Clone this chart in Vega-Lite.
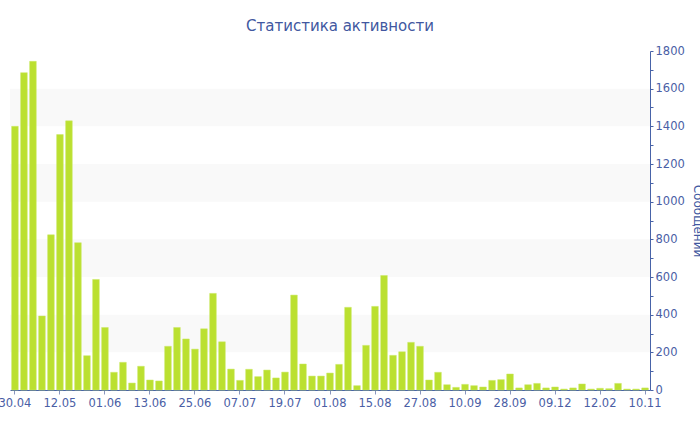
{
  "$schema": "https://vega.github.io/schema/vega-lite/v6.json",
  "autosize": {"type": "none"},
  "padding": {"left": 10, "top": 51, "right": 50, "bottom": 40},
  "width": 640,
  "height": 339,
  "background": "white",
  "title": {
    "text": "Статистика активности",
    "font": "DejaVu Sans",
    "fontSize": 15,
    "fontWeight": "normal",
    "color": "#4157a0",
    "anchor": "middle",
    "dx": 10,
    "offset": 11
  },
  "config": {
    "view": {"stroke": null},
    "axis": {
      "labelFont": "DejaVu Sans",
      "labelFontSize": 11.5,
      "labelColor": "#4a5ea5",
      "titleFont": "DejaVu Sans",
      "titleFontSize": 12,
      "titleFontWeight": "normal",
      "titleColor": "#4157a0",
      "domainColor": "#4863a8",
      "tickColor": "#8a96c0",
      "grid": false
    },
    "axisY": {
      "labelOverlap": false,
      "labelFlush": false,
      "labelBound": false
    }
  },
  "datasets": {
    "bands": [
      {"lo": 200, "hi": 400},
      {"lo": 600, "hi": 800},
      {"lo": 1000, "hi": 1200},
      {"lo": 1400, "hi": 1600}
    ],
    "activity": [
      {"i": 1, "n": 1400}, {"i": 2, "n": 1685}, {"i": 3, "n": 1745}, {"i": 4, "n": 393}, {"i": 5, "n": 824},
      {"i": 6, "n": 1356}, {"i": 7, "n": 1429}, {"i": 8, "n": 782}, {"i": 9, "n": 182}, {"i": 10, "n": 587},
      {"i": 11, "n": 332}, {"i": 12, "n": 94}, {"i": 13, "n": 147}, {"i": 14, "n": 37}, {"i": 15, "n": 126},
      {"i": 16, "n": 53}, {"i": 17, "n": 48}, {"i": 18, "n": 232}, {"i": 19, "n": 332}, {"i": 20, "n": 271},
      {"i": 21, "n": 217}, {"i": 22, "n": 325}, {"i": 23, "n": 513}, {"i": 24, "n": 256}, {"i": 25, "n": 111},
      {"i": 26, "n": 51}, {"i": 27, "n": 110}, {"i": 28, "n": 71}, {"i": 29, "n": 106}, {"i": 30, "n": 64},
      {"i": 31, "n": 95}, {"i": 32, "n": 504}, {"i": 33, "n": 138}, {"i": 34, "n": 74}, {"i": 35, "n": 74},
      {"i": 36, "n": 90}, {"i": 37, "n": 136}, {"i": 38, "n": 439}, {"i": 39, "n": 23}, {"i": 40, "n": 237},
      {"i": 41, "n": 444}, {"i": 42, "n": 608}, {"i": 43, "n": 184}, {"i": 44, "n": 203}, {"i": 45, "n": 253},
      {"i": 46, "n": 232}, {"i": 47, "n": 53}, {"i": 48, "n": 94}, {"i": 49, "n": 28}, {"i": 50, "n": 14},
      {"i": 51, "n": 30}, {"i": 52, "n": 23}, {"i": 53, "n": 16}, {"i": 54, "n": 51}, {"i": 55, "n": 55},
      {"i": 56, "n": 85}, {"i": 57, "n": 11}, {"i": 58, "n": 28}, {"i": 59, "n": 35}, {"i": 60, "n": 11},
      {"i": 61, "n": 16}, {"i": 62, "n": 5}, {"i": 63, "n": 11}, {"i": 64, "n": 32}, {"i": 65, "n": 5},
      {"i": 66, "n": 9}, {"i": 67, "n": 7}, {"i": 68, "n": 35}, {"i": 69, "n": 5}, {"i": 70, "n": 5},
      {"i": 71, "n": 11}
    ]
  },
  "layer": [
    {
      "data": {"name": "bands"},
      "mark": {"type": "rect", "color": "#f9f9f9"},
      "encoding": {
        "y": {
          "field": "lo",
          "type": "quantitative",
          "scale": {"domain": [0, 1800], "nice": false},
          "axis": {
            "orient": "right",
            "title": "Сообщений",
            "values": [0, 100, 200, 300, 400, 500, 600, 700, 800, 900, 1000, 1100, 1200, 1300, 1400, 1500, 1600, 1700, 1800],
            "format": "d",
            "labelExpr": "datum.value % 200 == 0 ? datum.label : ''",
            "labelOverlap": false,
            "labelFlush": false,
            "labelBound": false,
            "tickColor": "#4863a8",
            "tickSize": 3,
            "labelPadding": 2,
            "titlePadding": 6,
            "titleAngle": 90
          }
        },
        "y2": {"field": "hi"}
      }
    },
    {
      "data": {"name": "activity"},
      "mark": {"type": "bar", "color": "#bbe030", "stroke": "#cbe866", "strokeWidth": 0.5},
      "encoding": {
        "x": {
          "field": "i",
          "type": "ordinal",
          "sort": null,
          "scale": {"paddingInner": 0.26, "paddingOuter": 0.18},
          "axis": {
            "title": null,
            "labelAngle": 0,
            "values": [1, 6, 11, 16, 21, 26, 31, 36, 41, 46, 51, 56, 61, 66, 71],
            "labelExpr": "['30.04','12.05','01.06','13.06','25.06','07.07','19.07','01.08','15.08','27.08','10.09','28.09','09.12','12.02','10.11'][(datum.value-1)/5]",
            "tickSize": 4,
            "labelPadding": 3,
            "labelBound": false,
            "labelOverlap": false
          }
        },
        "y": {
          "field": "n",
          "type": "quantitative",
          "scale": {"domain": [0, 1800], "nice": false},
          "axis": {
            "orient": "right",
            "title": "Сообщений",
            "values": [0, 100, 200, 300, 400, 500, 600, 700, 800, 900, 1000, 1100, 1200, 1300, 1400, 1500, 1600, 1700, 1800],
            "format": "d",
            "labelExpr": "datum.value % 200 == 0 ? datum.label : ''",
            "labelOverlap": false,
            "labelFlush": false,
            "labelBound": false,
            "tickColor": "#4863a8",
            "tickSize": 3,
            "labelPadding": 2,
            "titlePadding": 6,
            "titleAngle": 90
          }
        }
      }
    }
  ]
}
